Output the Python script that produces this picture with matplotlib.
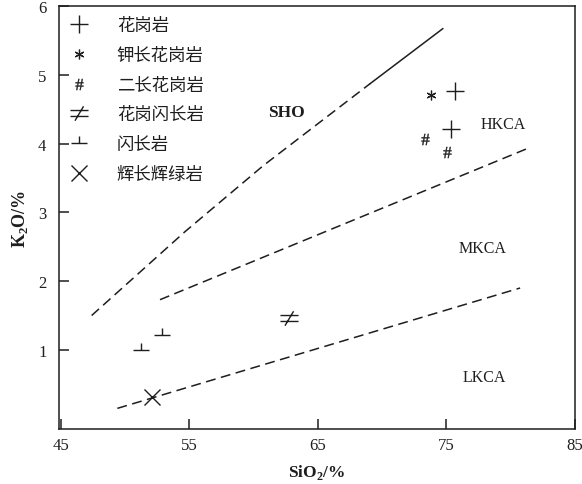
import matplotlib
matplotlib.use("Agg")
import matplotlib.pyplot as plt
from matplotlib.path import Path

plt.rcParams['font.family'] = ['Liberation Serif', 'DejaVu Serif']
plt.rcParams['mathtext.fontset'] = 'custom'
plt.rcParams['mathtext.rm'] = 'Liberation Serif'
plt.rcParams['mathtext.bf'] = 'Liberation Serif:bold'

# rock samples: SiO2 (%) and K2O (%)
granite_si = [75.67, 75.33]
granite_k = [4.76, 4.21]
kfs_granite_si = [73.78]
kfs_granite_k = [4.70]
monzogranite_si = [73.33, 75.02]
monzogranite_k = [4.07, 3.88]
granodiorite_si = [62.77]
granodiorite_k = [1.46]
diorite_si = [51.25, 52.84]
diorite_k = [1.00, 1.22]
gabbro_si = [52.06]
gabbro_k = [0.31]

# series boundaries
sho_si = [47.39, 54.66, 60.75, 69.05]
sho_k = [1.50, 2.72, 3.68, 4.87]
sho_solid_si = [69.05, 74.71]
sho_solid_k = [4.87, 5.67]
hkca_si = [52.71, 81.19]
hkca_k = [1.73, 3.92]
mkca_si = [49.39, 80.73]
mkca_k = [0.15, 1.90]

series_names = ['SHO', 'HKCA', 'MKCA', 'LKCA']
series_si = [62.52, 79.40, 77.77, 77.92]
series_k = [4.46, 4.28, 2.48, 0.61]

legend_labels = ['花岗岩', '钾长花岗岩', '二长花岗岩', '花岗闪长岩', '闪长岩', '辉长辉绿岩']

ink = '#1e1e1e'
M, L = Path.MOVETO, Path.LINETO
# inverted T for diorite
tee = Path([(-1, 0), (1, 0), (0, 0), (0, 0.8)], [M, L, M, L])
# not-equal sign for granodiorite
neq = Path([(-1, 0.33), (1, 0.33), (-1, -0.33), (1, -0.33), (-0.5, -0.8), (0.45, 0.8)],
           [M, L, M, L, M, L])

fig = plt.figure(figsize=(5.82, 4.85), dpi=100)
ax = fig.add_axes([59 / 582, 55 / 485, 516 / 582, 423 / 485])

dash = (0, (6.5, 3.6))
ax.plot(sho_si, sho_k, color=ink, lw=1.1, linestyle=dash)
ax.plot(sho_solid_si, sho_solid_k, color=ink, lw=1.1)
ax.plot(hkca_si, hkca_k, color=ink, lw=1.1, linestyle=dash)
ax.plot(mkca_si, mkca_k, color=ink, lw=1.1, linestyle=dash)

kw = dict(linestyle='none', color=ink, markeredgecolor=ink)
h1, = ax.plot(granite_si, granite_k, marker='+', markersize=13, mew=1.0, **kw)
h2, = ax.plot(kfs_granite_si, kfs_granite_k, marker=(6, 2, 0), markersize=7, mew=0.9, **kw)
h3, = ax.plot(monzogranite_si, monzogranite_k, marker=r'$\#$', markersize=8, mew=0.3, **kw)
h4, = ax.plot(granodiorite_si, granodiorite_k, marker=neq, markersize=13, mew=1.0, **kw)
h5, = ax.plot(diorite_si, diorite_k, marker=tee, markersize=12, mew=1.0, **kw)
h6, = ax.plot(gabbro_si, gabbro_k, marker='x', markersize=11, mew=1.0, **kw)

for name, x, y in zip(series_names, series_si, series_k):
    bold = name == 'SHO'
    ax.text(x, y, name, ha='center', va='center', fontsize=12.5 if bold else 11.5,
            color=ink, fontweight='bold' if bold else 'normal')

leg = ax.legend([h1, h2, h3, h4, h5, h6], legend_labels, loc='upper left',
                bbox_to_anchor=(0, 1.006), frameon=False,
                prop={'family': 'Noto Sans CJK SC', 'size': 12.5},
                handlelength=0.8, handletextpad=1.78, labelspacing=0.67,
                borderaxespad=0.45, borderpad=0.3, numpoints=1)
for t in leg.get_texts():
    t.set_color(ink)

ax.set_xlim(44.85, 85)
ax.set_ylim(-0.15, 6.0)
ax.set_xticks([45, 55, 65, 75, 85])
ax.set_yticks([1, 2, 3, 4, 5, 6])
ax.tick_params(direction='in', length=7, width=1.1, labelsize=12, colors=ink)
ax.tick_params(axis='y', pad=9)
ax.tick_params(axis='x', pad=6)
for s in ax.spines.values():
    s.set_linewidth(1.1)
    s.set_color(ink)

ax.set_xlabel(r'SiO$_{\mathbf{2}}$/%', fontsize=12.5, fontweight='bold', color=ink, labelpad=6)
ax.set_ylabel(r'K$_{\mathbf{2}}$O/%', fontsize=13, fontweight='bold', color=ink, labelpad=6)

fig.savefig('out.png', dpi=100, facecolor='white')
